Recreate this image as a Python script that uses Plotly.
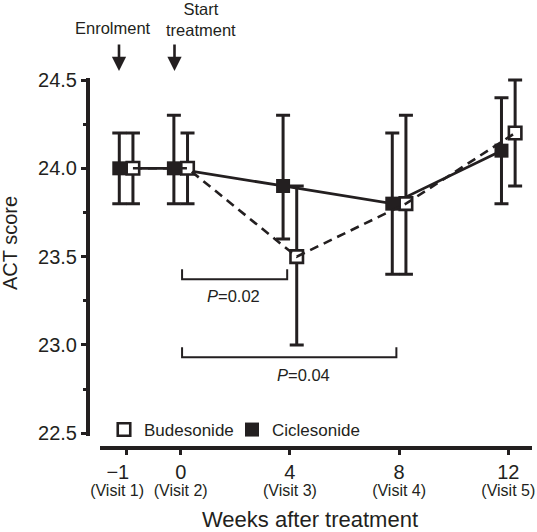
import plotly.graph_objects as go

# ---------------- data ----------------
weeks = [-1, 0, 4, 8, 12]
week_labels = ["\u22121\u00a0\u00a0\u00a0", "0", "4", "8", "12"]
visit_labels = ["(Visit 1)", "(Visit 2)", "(Visit 3)", "(Visit 4)", "(Visit 5)"]

bud_mean = [24.0, 24.0, 23.5, 23.8, 24.2]
bud_upper = [24.2, 24.2, 23.9, 24.3, 24.5]
bud_lower = [23.8, 23.8, 23.0, 23.4, 23.9]

cic_mean = [24.0, 24.0, 23.9, 23.8, 24.1]
cic_upper = [24.2, 24.3, 24.3, 24.2, 24.4]
cic_lower = [23.8, 23.8, 23.6, 23.4, 23.8]

y_ticks = [22.5, 23.0, 23.5, 24.0, 24.5]

comparisons = [(0, 4), (0, 8)]
p_values = ["0.02", "0.04"]

# ---------------- styling / layout ----------------
INK = "#231f20"
FONT = "Liberation Sans, Arial, Helvetica, sans-serif"
W, H = 537, 532
ML, MR, MT, MB = 88, 5, 70, 84
PW, PH = W - ML - MR, H - MT - MB

def px_x(p):
    return (p - ML) / PW

def px_y(p):
    return (H - MB - p) / PH

# -1 week (run-in) is drawn with a wider gap on the axis
x_pos = [2 * w if w < 0 else w for w in weeks]
dodge = 0.25
bud_x = [p + dodge for p in x_pos]
cic_x = [p - dodge for p in x_pos]
# the first visit label is nudged left so it clears its neighbour
visit_label_shift = [-0.33, 0, 0, 0, 0]
visit_tick_pos = [p + s for p, s in zip(x_pos, visit_label_shift)]

X_RANGE = [-3.396, 12.868]
Y_RANGE = [22.4168, 24.5566]

fig = go.Figure()

# connecting lines (drawn first so markers sit on top)
fig.add_trace(go.Scatter(x=bud_x, y=bud_mean, mode="lines", xaxis="x2", yaxis="y",
                         line=dict(color=INK, width=2.6, dash="9px,6px"),
                         showlegend=False, hoverinfo="skip", cliponaxis=False))
fig.add_trace(go.Scatter(x=cic_x, y=cic_mean, mode="lines",
                         line=dict(color=INK, width=2.8),
                         showlegend=False, hoverinfo="skip", cliponaxis=False))

# markers with error bars
fig.add_trace(go.Scatter(
    x=bud_x, y=bud_mean, mode="markers", name="Budesonide",
    marker=dict(symbol="square", size=12.5, color="white",
                line=dict(color=INK, width=2.6)),
    error_y=dict(type="data", symmetric=False,
                 array=[u - m for u, m in zip(bud_upper, bud_mean)],
                 arrayminus=[m - l for m, l in zip(bud_mean, bud_lower)],
                 color=INK, thickness=3, width=7),
    cliponaxis=False))
fig.add_trace(go.Scatter(
    x=cic_x, y=cic_mean, mode="markers", name="Ciclesonide",
    marker=dict(symbol="square", size=14, color=INK, line=dict(width=0)),
    error_y=dict(type="data", symmetric=False,
                 array=[u - m for u, m in zip(cic_upper, cic_mean)],
                 arrayminus=[m - l for m, l in zip(cic_mean, cic_lower)],
                 color=INK, thickness=3, width=7),
    cliponaxis=False))

shapes = []
# detached axis lines
shapes.append(dict(type="line", xref="paper", yref="y", x0=0, x1=0,
                   y0=22.485, y1=24.512, line=dict(color=INK, width=4)))
shapes.append(dict(type="line", xref="paper", yref="paper",
                   x0=px_x(100), x1=1.0, y0=0, y1=0, line=dict(color=INK, width=4)))

annotations = []
# significance brackets
bracket_y = [(23.372, 23.428), (22.930, 22.987)]
label_px = [(233, 296), (303, 375)]
for (a, b), p, (yb, yt), (lx, ly) in zip(comparisons, p_values, bracket_y, label_px):
    xa = x_pos[weeks.index(a)] + 0.05
    xb = x_pos[weeks.index(b)] - 0.1
    shapes.append(dict(type="path", xref="x", yref="y",
                       path=f"M {xa},{yt} L {xa},{yb} L {xb},{yb} L {xb},{yt}",
                       line=dict(color=INK, width=2)))
    annotations.append(dict(xref="paper", yref="paper", x=px_x(lx), y=px_y(ly),
                            text=f"<i>P</i>=" + p, showarrow=False,
                            xanchor="center", yanchor="middle",
                            font=dict(family=FONT, size=16.5, color=INK)))

# event arrows and labels
annotations.append(dict(xref="paper", yref="paper", x=px_x(112.5), y=px_y(28),
                        text="Enrolment", showarrow=False, xanchor="center",
                        yanchor="middle", font=dict(family=FONT, size=16.5, color=INK)))
annotations.append(dict(xref="paper", yref="paper", x=px_x(201), y=px_y(20),
                        text="Start<br>treatment", showarrow=False, xanchor="center",
                        yanchor="middle", font=dict(family=FONT, size=16.5, color=INK)))
for ax_px in (119, 174.5):
    annotations.append(dict(xref="paper", yref="paper", x=px_x(ax_px), y=px_y(71),
                            ax=0, ay=-28, text="", showarrow=True, arrowhead=2,
                            arrowsize=1.1, arrowwidth=2.6, arrowcolor=INK, standoff=0))

# y-axis title
annotations.append(dict(xref="paper", yref="paper", x=px_x(10), y=px_y(243),
                        text="ACT score", textangle=-90, showarrow=False,
                        xanchor="center", yanchor="middle",
                        font=dict(family=FONT, size=20, color=INK)))

fig.update_layout(
    width=W, height=H,
    margin=dict(l=ML, r=MR, t=MT, b=MB, autoexpand=False),
    paper_bgcolor="white", plot_bgcolor="white",
    font=dict(family=FONT, color=INK),
    showlegend=True,
    legend=dict(orientation="h", x=px_x(104), y=px_y(430),
                xanchor="left", yanchor="middle",
                font=dict(family=FONT, size=17, color=INK),
                itemwidth=30, entrywidth=83, entrywidthmode="pixels",
                bgcolor="rgba(0,0,0,0)", borderwidth=0),
    xaxis=dict(range=X_RANGE, tickmode="array", tickvals=x_pos, ticktext=week_labels,
               ticks="outside", ticklen=6, tickwidth=3, tickcolor=INK, tickangle=0,
               tickfont=dict(family=FONT, size=20, color=INK),
               showline=False, showgrid=False, zeroline=False,
               title=dict(text="Weeks after treatment", standoff=35,
                          font=dict(family=FONT, size=22, color=INK)),
               automargin=False),
    xaxis2=dict(range=X_RANGE, overlaying="x", anchor="y", side="bottom",
                tickmode="array", tickvals=visit_tick_pos, ticktext=visit_labels,
                ticks="", ticklabelstandoff=31, tickangle=0,
                tickfont=dict(family=FONT, size=16, color=INK),
                showline=False, showgrid=False, zeroline=False, automargin=False),
    yaxis=dict(range=Y_RANGE, tickmode="array", tickvals=y_ticks, tickformat=".1f",
               ticks="outside", ticklen=6, tickwidth=3, tickcolor=INK,
               tickfont=dict(family=FONT, size=20, color=INK),
               minor=dict(ticks="outside", dtick=0.25, tick0=22.5, ticklen=4,
                          tickwidth=2.5, tickcolor=INK, showgrid=False),
               showline=False, showgrid=False, zeroline=False, automargin=False),
    shapes=shapes, annotations=annotations,
)

fig.write_html("out.html", config={"displayModeBar": False},
               post_script="document.body.style.margin='0';")
